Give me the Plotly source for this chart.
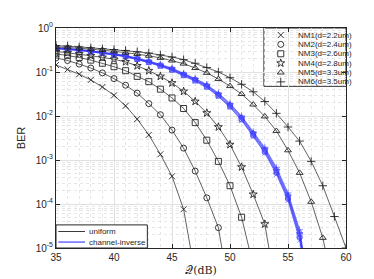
import plotly.graph_objects as go

# ---------------- data ----------------
q_db = list(range(35, 61))

nm_labels = ["NM1(d=2.2um)", "NM2(d=2.4um)", "NM3(d=2.6um)",
             "NM4(d=2.8um)", "NM5(d=3.3um)", "NM6(d=3.5um)"]

# uniform power allocation (black curves)
ber_uniform_nm1 = [0.1445, 0.1148, 0.0891, 0.0661, 0.0457, 0.0295, 0.0170, 0.00851,
                   0.00372, 0.00135, 4.27e-4, 7.6e-5, 2.5e-6]
ber_uniform_nm2 = [0.209, 0.182, 0.151, 0.123, 0.0955, 0.0708, 0.0501, 0.0331, 0.0191,
                   0.0107, 0.00479, 0.00186, 5.6e-4, 1.38e-4, 2.9e-5, 8e-7]
ber_uniform_nm3 = [0.260, 0.240, 0.214, 0.186, 0.158, 0.132, 0.107, 0.0794, 0.0603,
                   0.0407, 0.0257, 0.0148, 0.00708, 0.00282, 9.3e-4, 2.6e-4, 5.0e-5, 4e-6]
ber_uniform_nm4 = [0.295, 0.275, 0.257, 0.234, 0.214, 0.195, 0.170, 0.138, 0.107,
                   0.0794, 0.0562, 0.0363, 0.0214, 0.0117, 0.00562, 0.00224, 6.9e-4,
                   1.66e-4, 3.5e-5, 1e-6]
ber_uniform_nm5 = [0.372, 0.363, 0.347, 0.331, 0.316, 0.295, 0.275, 0.257, 0.234,
                   0.209, 0.182, 0.155, 0.123, 0.0955, 0.0692, 0.0479, 0.0316, 0.0182,
                   0.00977, 0.00457, 0.00166, 5.1e-4, 1.12e-4, 1.7e-5, 1e-6]
ber_uniform_nm6 = [0.398, 0.389, 0.372, 0.355, 0.339, 0.324, 0.309, 0.288, 0.269,
                   0.245, 0.219, 0.191, 0.158, 0.126, 0.100, 0.0741, 0.0525, 0.0355,
                   0.0214, 0.0115, 0.00562, 0.00269, 9.3e-4, 2.6e-4, 5.2e-5, 1.0e-5]

# channel-inverse allocation (blue curves)
ber_inverse_nm1 = [0.336, 0.325, 0.306, 0.286, 0.266, 0.243, 0.221, 0.192, 0.163,
                   0.134, 0.108, 0.0815, 0.0615, 0.0442, 0.0276, 0.0156, 0.00790,
                   0.00340, 0.00143, 4.7e-4, 1.20e-4, 1.5e-5, 4e-7]
ber_inverse_nm2 = [0.340, 0.329, 0.310, 0.290, 0.270, 0.246, 0.224, 0.195, 0.166,
                   0.137, 0.111, 0.0838, 0.0632, 0.0456, 0.0285, 0.0162, 0.00825,
                   0.00358, 0.00151, 5.05e-4, 1.30e-4, 1.7e-5, 4.5e-7]
ber_inverse_nm3 = [0.345, 0.333, 0.314, 0.293, 0.273, 0.249, 0.227, 0.198, 0.168,
                   0.140, 0.114, 0.0860, 0.0652, 0.0472, 0.0296, 0.0170, 0.00868,
                   0.00378, 0.00161, 5.4e-4, 1.40e-4, 1.9e-5, 5e-7]
ber_inverse_nm4 = [0.349, 0.337, 0.318, 0.297, 0.277, 0.253, 0.231, 0.202, 0.172,
                   0.143, 0.117, 0.0885, 0.0672, 0.0488, 0.0308, 0.0178, 0.00912,
                   0.00398, 0.00171, 5.8e-4, 1.51e-4, 2.1e-5, 5.5e-7]
ber_inverse_nm5 = [0.353, 0.341, 0.322, 0.301, 0.281, 0.257, 0.235, 0.206, 0.175,
                   0.146, 0.120, 0.0908, 0.0692, 0.0503, 0.0320, 0.0186, 0.00955,
                   0.00418, 0.00181, 6.3e-4, 1.63e-4, 2.35e-5, 6e-7]
ber_inverse_nm6 = [0.357, 0.345, 0.326, 0.305, 0.285, 0.261, 0.239, 0.210, 0.179,
                   0.149, 0.123, 0.0932, 0.0712, 0.0520, 0.0332, 0.0194, 0.0100,
                   0.00440, 0.00192, 6.8e-4, 1.78e-4, 2.6e-5, 6.5e-7]

y_tick_vals = [1, 1e-1, 1e-2, 1e-3, 1e-4, 1e-5]
y_tick_text = ["10<sup>0</sup>", "10<sup>-1</sup>", "10<sup>-2</sup>",
               "10<sup>-3</sup>", "10<sup>-4</sup>", "10<sup>-5</sup>"]
x_tick_vals = [35, 40, 45, 50, 55, 60]
legend2_labels = ["uniform", "channel-inverse"]

# ---------------- styles ----------------
symbols = ["x-thin-open", "circle-open", "square-open", "star-open",
           "triangle-up-open", "cross-thin-open"]
uniform_series = [ber_uniform_nm1, ber_uniform_nm2, ber_uniform_nm3,
                  ber_uniform_nm4, ber_uniform_nm5, ber_uniform_nm6]
inverse_series = [ber_inverse_nm1, ber_inverse_nm2, ber_inverse_nm3,
                  ber_inverse_nm4, ber_inverse_nm5, ber_inverse_nm6]
BLACK_LINE = "#3a3a3a"
BLUE = "rgb(30,30,255)"
BLUE_M = "rgba(70,70,255,0.7)"
FONT = "Liberation Sans"

# legend layout (fractions of the plot area)
LEG1_X0, LEG1_X1, LEG1_Y0, LEG1_Y1 = 0.717, 1.0, 0.735, 1.0
LEG1_SYM_X, LEG1_TXT_X = 0.775, 0.826
LEG1_ROW_TOP, LEG1_ROW_STEP = 0.968, 0.0426

# minor grid positions (between the labelled ticks)
minor_x = [v for v in q_db if v not in x_tick_vals]
minor_y = []
for e in range(-5, 0):
    for k in range(2, 10):
        minor_y.append(k * 10 ** e)

fig = go.Figure()

# invisible helper trace that activates the overlaid minor-grid axes
fig.add_trace(go.Scatter(x=[35], y=[1e-3], xaxis="x2", yaxis="y2",
                         mode="markers", marker=dict(opacity=0),
                         showlegend=False, hoverinfo="skip"))

for sym, ys in zip(symbols, inverse_series):
    fig.add_trace(go.Scatter(
        x=q_db[:len(ys)], y=ys, mode="lines+markers",
        line=dict(color="rgba(40,40,255,0.85)", width=0.7),
        marker=dict(symbol=sym, size=5, color=BLUE_M,
                    line=dict(color=BLUE_M, width=0.9)),
        showlegend=False, cliponaxis=True))

for sym, ys, name in zip(symbols, uniform_series, nm_labels):
    fig.add_trace(go.Scatter(
        x=q_db[:len(ys)], y=ys, mode="lines+markers", name=name,
        line=dict(color=BLACK_LINE, width=0.8),
        marker=dict(symbol=sym, size=6, color="#222222",
                    line=dict(color="#222222", width=0.9)),
        showlegend=False, cliponaxis=True))

# legend-1 key markers on a hidden 0..1 overlay axis
leg_rows = [LEG1_ROW_TOP - i * LEG1_ROW_STEP for i in range(len(nm_labels))]
fig.add_trace(go.Scatter(
    x=[LEG1_SYM_X] * len(nm_labels), y=leg_rows, xaxis="x3", yaxis="y3",
    mode="markers", marker=dict(symbol=symbols, size=6, color="#222222",
                                line=dict(color="#222222", width=0.9)),
    showlegend=False, hoverinfo="skip", cliponaxis=False))

fig.update_layout(
    xaxis=dict(
        range=[35, 60], tickvals=x_tick_vals, ticks="inside", ticklen=4,
        tickcolor="#262626", showline=True, linecolor="#262626", linewidth=1,
        mirror="ticks", showgrid=True, gridcolor="#e0e0e0", gridwidth=1,
        zeroline=False,
        tickfont=dict(family=FONT, size=10, color="#262626"),
        title=dict(text="𝒬(dB)", font=dict(family="DejaVu Serif", size=11,
                                            color="#262626"), standoff=4),
    ),
    yaxis=dict(
        type="log", range=[-5, 0], tickvals=y_tick_vals, ticktext=y_tick_text,
        ticks="inside", ticklen=4, tickcolor="#262626", showline=True,
        linecolor="#262626", linewidth=1, mirror="ticks", showgrid=True,
        gridcolor="#e0e0e0", gridwidth=1, zeroline=False,
        tickfont=dict(family=FONT, size=10, color="#262626"),
        title=dict(text="BER", font=dict(family=FONT, size=11, color="#262626"),
                   standoff=7),
    ),
    xaxis2=dict(range=[35, 60], overlaying="x", tickvals=minor_x,
                showticklabels=False, ticks="", showgrid=True,
                gridcolor="#e6e6e6", griddash="dot", zeroline=False,
                showline=False, side="bottom"),
    yaxis2=dict(type="log", range=[-5, 0], overlaying="y", tickvals=minor_y,
                showticklabels=False, ticks="", showgrid=True,
                gridcolor="#e6e6e6", griddash="dot", zeroline=False,
                showline=False, side="left"),
    xaxis3=dict(range=[0, 1], overlaying="x", visible=False),
    yaxis3=dict(range=[0, 1], overlaying="y", visible=False),
)

# ---------------- legend boxes and texts ----------------
shapes = []
annotations = []
shapes.append(dict(type="rect", xref="paper", yref="paper", x0=LEG1_X0, x1=LEG1_X1,
                   y0=LEG1_Y0, y1=LEG1_Y1, line=dict(color="#262626", width=1),
                   fillcolor="white", layer="between"))
for lab, ry in zip(nm_labels, leg_rows):
    annotations.append(dict(xref="paper", yref="paper", x=LEG1_TXT_X, y=ry,
                            text=lab, showarrow=False, xanchor="left",
                            yanchor="middle",
                            font=dict(family=FONT, size=8, color="#262626")))
# legend 2 (bottom left)
shapes.append(dict(type="rect", xref="paper", yref="paper", x0=0.0, x1=0.315,
                   y0=0.0, y1=0.105, line=dict(color="#262626", width=1),
                   fillcolor="white", layer="above"))
leg2_y = [0.075, 0.027]
leg2_col = [BLACK_LINE, BLUE]
for lab, ry, col in zip(legend2_labels, leg2_y, leg2_col):
    shapes.append(dict(type="line", xref="paper", yref="paper", x0=0.008,
                       x1=0.1, y0=ry, y1=ry, line=dict(color=col, width=1),
                       layer="above"))
    annotations.append(dict(xref="paper", yref="paper", x=0.108, y=ry,
                            text=lab, showarrow=False, xanchor="left",
                            yanchor="middle",
                            font=dict(family=FONT, size=8, color="#262626")))

fig.update_layout(
    width=374, height=279,
    margin=dict(l=48, r=36, t=20, b=31),
    paper_bgcolor="white", plot_bgcolor="white",
    shapes=shapes, annotations=annotations, showlegend=False,
)

fig.write_html("out.html")
